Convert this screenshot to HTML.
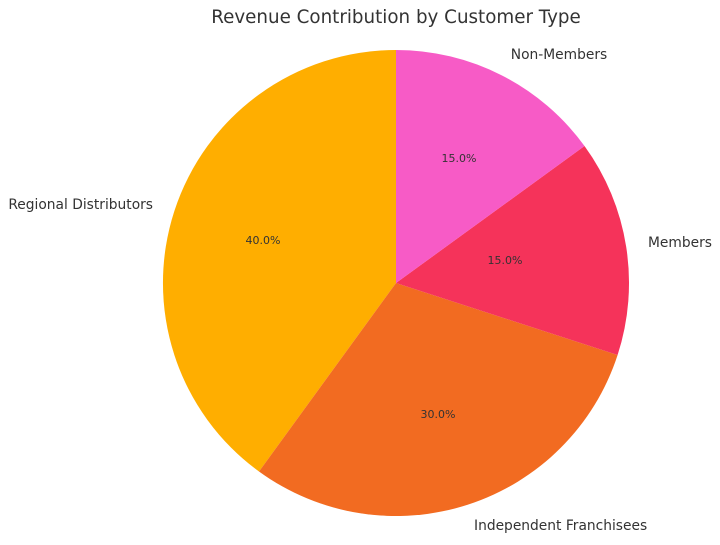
<!DOCTYPE html>
<html><head><meta charset="utf-8"><style>
body{margin:0;background:#fff}
svg{display:block}
text{font-family:"DejaVu Sans","Liberation Sans",sans-serif;fill:#333}
</style></head><body>
<svg width="720" height="545" viewBox="0 0 720 545">
<text x="396" y="23" font-size="18.3" text-anchor="middle">Revenue Contribution by Customer Type</text>
<path d="M396,283 L396,50 A233,233 0 0 0 259.0,471.5 Z" fill="#FFAE00"/>
<path d="M396,283 L259.0,471.5 A233,233 0 0 0 617.6,355.0 Z" fill="#F26B21"/>
<path d="M396,283 L617.6,355.0 A233,233 0 0 0 584.5,146.0 Z" fill="#F5335A"/>
<path d="M396,283 L584.5,146.0 A233,233 0 0 0 396,50 Z" fill="#F75BC6"/>
<g font-size="11" text-anchor="middle">
<text x="263" y="244">40.0%</text>
<text x="438" y="418">30.0%</text>
<text x="505" y="264">15.0%</text>
<text x="459" y="162">15.0%</text>
</g>
<g font-size="13.8">
<text x="153" y="209" text-anchor="end">Regional Distributors</text>
<text x="474" y="530">Independent Franchisees</text>
<text x="648" y="247">Members</text>
<text x="559" y="59" text-anchor="middle">Non-Members</text>
</g>
</svg>
</body></html>
